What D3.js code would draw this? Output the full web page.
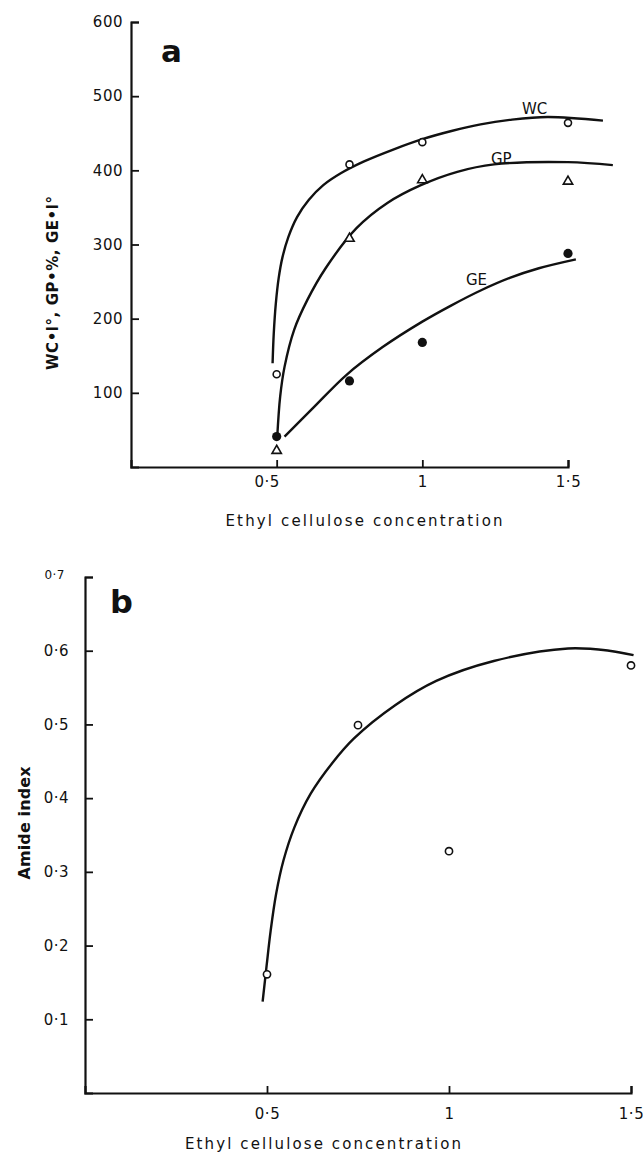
<!DOCTYPE html>
<html>
<head>
<meta charset="utf-8">
<script src="https://cdn.jsdelivr.net/npm/d3@7"></script>
<style>
  body { margin: 0; background: #fff; }
  svg text { font-family: "DejaVu Sans", sans-serif; fill: #111; }
</style>
</head>
<body>
<div id="chart"></div>
<script>
// ---- panel a data ----
const concA = [0.5, 0.75, 1.0, 1.5];
const wcPoints = [125, 408, 438, 464];
const gpPoints = [22, 308, 387, 385];
const gePoints = [41, 116, 168, 288];
// hand drawn fitted curves
const wcCurve = [[0.486,140],[0.49,180],[0.497,220],[0.507,255],[0.52,283],[0.54,310],[0.57,337],[0.61,360],[0.66,380],[0.72,396],[0.8,412],[0.9,428],[1.0,442],[1.1,453],[1.2,462],[1.3,468],[1.43,472],[1.62,467]];
const gpCurve = [[0.502,41],[0.512,95],[0.527,135],[0.56,185],[0.605,225],[0.668,268],[0.774,322],[0.88,356],[0.995,380],[1.12,398],[1.246,408],[1.5,411],[1.654,407]];
const geCurve = [[0.527,41],[0.626,80],[0.739,124],[0.865,162],[1.0,196],[1.1,218],[1.2,238],[1.3,255],[1.4,268],[1.527,280]];
const ticksXA = [0.5, 1, 1.5];
const ticksYA = [100, 200, 300, 400, 500, 600];

// ---- panel b data ----
const concB = [0.5, 0.75, 1.0, 1.5];
const amidePoints = [0.161, 0.499, 0.328, 0.580];
const amideCurve = [[0.488,0.124],[0.499,0.173],[0.51,0.22],[0.525,0.27],[0.545,0.315],[0.575,0.36],[0.62,0.406],[0.68,0.448],[0.739,0.481],[0.852,0.526],[0.965,0.559],[1.123,0.586],[1.327,0.603],[1.44,0.600],[1.507,0.594]];
const ticksXB = [0.5, 1, 1.5];
const ticksYB = [0.1, 0.2, 0.3, 0.4, 0.5, 0.6, 0.7];

const fmt = d => String(d).replace(".", "·");

const width = 643, height = 1153;
const svg = d3.select("#chart").append("svg")
  .attr("width", width)
  .attr("height", height);

// scales
const xA = d3.scaleLinear().domain([0, 1.5]).range([131, 568]);
const yA = d3.scaleLinear().domain([0, 600]).range([467, 22]);
const xB = d3.scaleLinear().domain([0, 1.5]).range([85, 631]);
const yB = d3.scaleLinear().domain([0, 0.7]).range([1093, 577]);

function styleAxis(g) {
  g.select(".domain").attr("stroke", "#111").attr("stroke-width", 2.2);
  g.selectAll(".tick line").attr("stroke", "#111").attr("stroke-width", 1.8);
  g.selectAll(".tick text")
    .attr("font-size", 15)
    .attr("letter-spacing", 0.5)
    .attr("fill", "#111");
}

// ---------- panel a ----------
const gA = svg.append("g");

gA.append("g")
  .attr("transform", `translate(0,${yA(0)})`)
  .call(d3.axisBottom(xA).tickValues(ticksXA).tickFormat(fmt).tickSize(-7).tickSizeOuter(-7).tickPadding(9))
  .call(styleAxis)
  .call(g => g.selectAll(".tick text").attr("dx", d => d === 0.5 ? -10 : 0));

gA.append("g")
  .attr("transform", `translate(${xA(0)},0)`)
  .call(d3.axisLeft(yA).tickValues(ticksYA).tickSize(-8).tickSizeOuter(-8).tickPadding(8))
  .call(styleAxis);

const lineA = d3.line().x(d => xA(d[0])).y(d => yA(d[1])).curve(d3.curveCatmullRom);

[wcCurve, gpCurve, geCurve].forEach(c => {
  gA.append("path")
    .datum(c)
    .attr("d", lineA)
    .attr("fill", "none")
    .attr("stroke", "#111")
    .attr("stroke-width", 2.4);
});

// WC open circles
gA.selectAll("circle.wc")
  .data(concA.map((c, i) => [c, wcPoints[i]]))
  .enter().append("circle")
  .attr("class", "wc")
  .attr("cx", d => xA(d[0]))
  .attr("cy", d => yA(d[1]))
  .attr("r", 3.5)
  .attr("fill", "#fff")
  .attr("stroke", "#111")
  .attr("stroke-width", 1.6);

// GP open triangles
gA.selectAll("path.gp")
  .data(concA.map((c, i) => [c, gpPoints[i]]))
  .enter().append("path")
  .attr("class", "gp")
  .attr("d", d3.symbol().type(d3.symbolTriangle).size(38))
  .attr("transform", d => `translate(${xA(d[0])},${yA(d[1])})`)
  .attr("fill", "#fff")
  .attr("stroke", "#111")
  .attr("stroke-width", 1.6);

// GE filled circles
gA.selectAll("circle.ge")
  .data(concA.map((c, i) => [c, gePoints[i]]))
  .enter().append("circle")
  .attr("class", "ge")
  .attr("cx", d => xA(d[0]))
  .attr("cy", d => yA(d[1]))
  .attr("r", 4.6)
  .attr("fill", "#111");

// curve labels
gA.append("text").attr("x", 522).attr("y", 114).attr("font-size", 15).text("WC");
gA.append("text").attr("x", 491).attr("y", 164).attr("font-size", 15).text("GP");
gA.append("text").attr("x", 466).attr("y", 285).attr("font-size", 15).text("GE");

gA.append("text")
  .attr("x", 161).attr("y", 62)
  .attr("font-family", "Liberation Sans, Arial, sans-serif")
  .attr("font-weight", "bold")
  .attr("font-size", 31)
  .text("a");

gA.append("text")
  .attr("transform", "translate(58,283) rotate(-90)")
  .attr("text-anchor", "middle")
  .attr("font-size", 15)
  .attr("font-weight", 600)
  .attr("textLength", 174)
  .text("WC•l°, GP•%, GE•l°");

gA.append("text")
  .attr("x", 364).attr("y", 526)
  .attr("text-anchor", "middle")
  .attr("font-size", 15)
  .attr("textLength", 277)
  .text("Ethyl cellulose concentration");

// ---------- panel b ----------
const gB = svg.append("g");

gB.append("g")
  .attr("transform", `translate(0,${yB(0)})`)
  .call(d3.axisBottom(xB).tickValues(ticksXB).tickFormat(fmt).tickSize(-7).tickSizeOuter(-7).tickPadding(15))
  .call(styleAxis);

gB.append("g")
  .attr("transform", `translate(${xB(0)},0)`)
  .call(d3.axisLeft(yB).tickValues(ticksYB).tickFormat(fmt).tickSize(-8).tickSizeOuter(-8).tickPadding(16))
  .call(styleAxis)
  .call(g => g.selectAll(".tick").filter(d => d === 0.7).select("text")
    .attr("font-size", 12).attr("dx", -4).attr("dy", "0.1em"));

const lineB = d3.line().x(d => xB(d[0])).y(d => yB(d[1])).curve(d3.curveCatmullRom);

gB.append("path")
  .datum(amideCurve)
  .attr("d", lineB)
  .attr("fill", "none")
  .attr("stroke", "#111")
  .attr("stroke-width", 2.4);

gB.selectAll("circle.am")
  .data(concB.map((c, i) => [c, amidePoints[i]]))
  .enter().append("circle")
  .attr("class", "am")
  .attr("cx", d => xB(d[0]))
  .attr("cy", d => yB(d[1]))
  .attr("r", 3.6)
  .attr("fill", "#fff")
  .attr("stroke", "#111")
  .attr("stroke-width", 1.6);

gB.append("text")
  .attr("x", 110).attr("y", 613)
  .attr("font-family", "Liberation Sans, Arial, sans-serif")
  .attr("font-weight", "bold")
  .attr("font-size", 32)
  .text("b");

gB.append("text")
  .attr("transform", "translate(30,823) rotate(-90)")
  .attr("text-anchor", "middle")
  .attr("font-size", 16)
  .attr("font-weight", 600)
  .attr("textLength", 113)
  .text("Amide index");

gB.append("text")
  .attr("x", 323).attr("y", 1149)
  .attr("text-anchor", "middle")
  .attr("font-size", 15)
  .attr("textLength", 276)
  .text("Ethyl cellulose concentration");
</script>
</body>
</html>
